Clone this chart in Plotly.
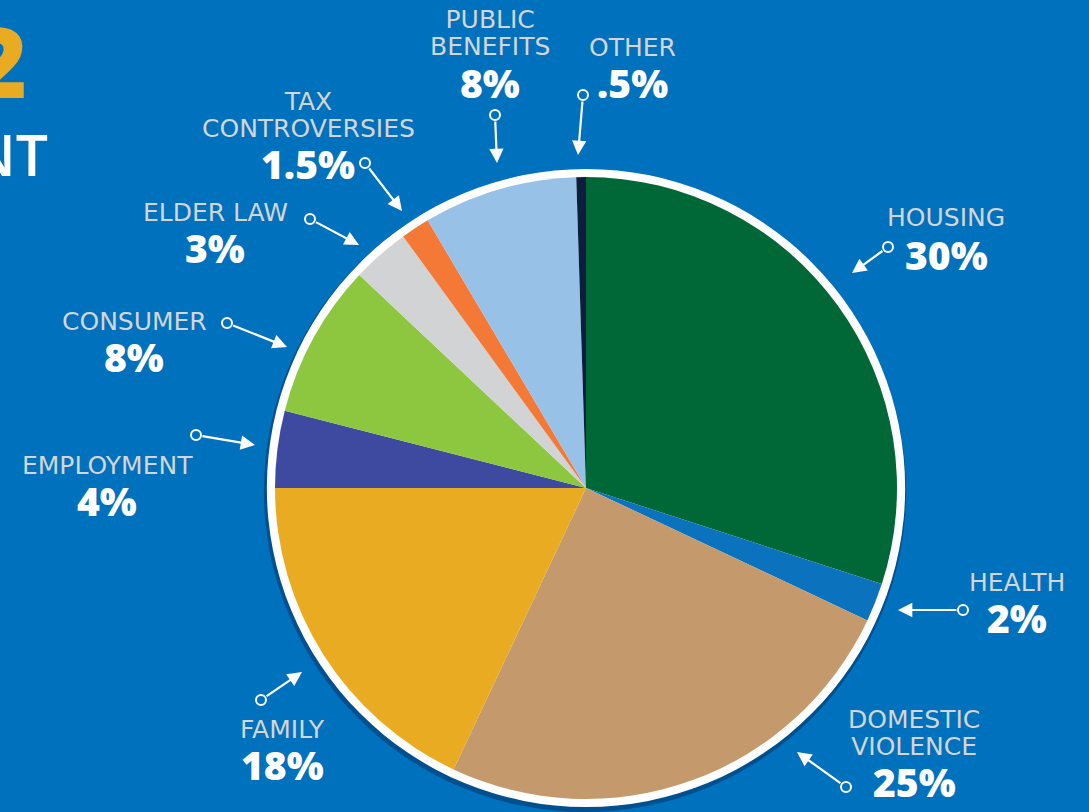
import plotly.graph_objects as go

# ---- data ----
categories = ["HOUSING", "HEALTH", "DOMESTIC\nVIOLENCE", "FAMILY", "EMPLOYMENT",
              "CONSUMER", "ELDER LAW", "TAX\nCONTROVERSIES", "PUBLIC\nBENEFITS", "OTHER"]
values = [30, 2, 25, 18, 4, 8, 3, 1.5, 8, 0.5]
pct_labels = ["30%", "2%", "25%", "18%", "4%", "8%", "3%", "1.5%", "8%", ".5%"]
colors = ["#006837", "#0B72BD", "#C49A6C", "#E9AB22", "#3D4A9F",
          "#8DC63F", "#D1D3D4", "#F47836", "#97C1E6", "#0C1D3D"]

# ---- layout (pixels) ----
W, H = 1089, 812
BG = "#0071BC"
CX, CY, R = 586, 488, 311
RING = 8

# label placement: (center x, y of last name line, y of percent)
label_pos = [(946, 218, 254), (1017, 582, 617), (914, 746, 781), (282, 729, 764),
             (107, 465, 500), (134, 321, 356), (215, 212, 247), (308, 128, 163),
             (490, 47, 83), (632, 47, 83)]
# arrows: (tail circle x, y, head x, y)
arrow_pos = [(888, 247, 852, 273), (963, 610, 898, 610), (846, 787, 797, 752),
             (261, 700, 302, 672), (196, 435, 255, 445), (227, 323, 287, 347),
             (310, 219, 359, 245), (365, 163, 402, 211), (495, 115, 497, 163),
             (583, 95, 578, 155)]

NAME_FONT = "DejaVu Sans"
PCT_FONT = "Open Sans"
NAME_SIZE = 25
PCT_SIZE = 39
LINE_GAP = 27


def px(x):
    return x / W


def py(y):
    return 1 - y / H


def dom(cx, cy, r):
    return dict(x=[px(cx - r), px(cx + r)], y=[py(cy + r), py(cy - r)])


fig = go.Figure()
# shadow
fig.add_trace(go.Pie(values=[1], marker=dict(colors=["rgba(0,20,60,0.35)"], line=dict(width=0)),
                     domain=dom(CX - 1, CY + 3, R + RING + 2), textinfo="none", hoverinfo="skip",
                     showlegend=False, sort=False))
# white ring
fig.add_trace(go.Pie(values=[1], marker=dict(colors=["#FFFFFF"], line=dict(width=0)),
                     domain=dom(CX, CY, R + RING), textinfo="none", hoverinfo="skip",
                     showlegend=False, sort=False))
# main pie
fig.add_trace(go.Pie(labels=[c.replace("\n", " ") for c in categories], values=values,
                     marker=dict(colors=colors, line=dict(width=0)),
                     domain=dom(CX, CY, R), textinfo="none", sort=False,
                     direction="clockwise", rotation=0, showlegend=False))

annotations = []
shapes = []
for name, pct, (lx, ny, pyy) in zip(categories, pct_labels, label_pos):
    lines = name.split("\n")
    n = len(lines)
    txt = "<br>".join('<span style="font-size:%dpx">%s</span>' % (NAME_SIZE, l) for l in lines)
    yc = ny - (n - 1) * LINE_GAP / 2
    annotations.append(dict(x=px(lx), y=py(yc), xref="paper", yref="paper", text=txt,
                            showarrow=False, xanchor="center", yanchor="middle",
                            font=dict(family=NAME_FONT, size=21, color="#D5D5D5")))
    annotations.append(dict(x=px(lx), y=py(pyy), xref="paper", yref="paper", text=pct,
                            showarrow=False, xanchor="center", yanchor="middle",
                            font=dict(family=PCT_FONT, size=PCT_SIZE, color="#FFFFFF", weight=800)))

for (tx, ty, hx, hy) in arrow_pos:
    annotations.append(dict(x=px(hx), y=py(hy), xref="paper", yref="paper",
                            ax=tx - hx, ay=ty - hy,
                            text="", showarrow=True, arrowhead=2, arrowsize=1.3,
                            arrowwidth=2.2, arrowcolor="#FFFFFF", standoff=0, startstandoff=5))
    cr = 5
    shapes.append(dict(type="circle", xref="paper", yref="paper",
                       x0=px(tx - cr), x1=px(tx + cr), y0=py(ty + cr), y1=py(ty - cr),
                       line=dict(color="#FFFFFF", width=2), fillcolor=BG))

# cropped title fragments at top-left
annotations.append(dict(x=px(29), y=py(60), xref="paper", yref="paper", text="2",
                        showarrow=False, xanchor="right", yanchor="middle",
                        font=dict(family=PCT_FONT, size=98, color="#E9AB22", weight=800)))
annotations.append(dict(x=px(50), y=py(154), xref="paper", yref="paper", text="NT",
                        showarrow=False, xanchor="right", yanchor="middle",
                        font=dict(family="Open Sans", size=57, color="#FFFFFF", weight=600)))

fig.update_layout(width=W, height=H, margin=dict(l=0, r=0, t=0, b=0),
                  paper_bgcolor=BG, plot_bgcolor=BG,
                  annotations=annotations, shapes=shapes)

fig.write_html("out.html", config={"displayModeBar": False},
               post_script="document.body.style.margin='0';document.body.style.overflow='hidden';"
                           "document.body.style.background='" + BG + "';")
